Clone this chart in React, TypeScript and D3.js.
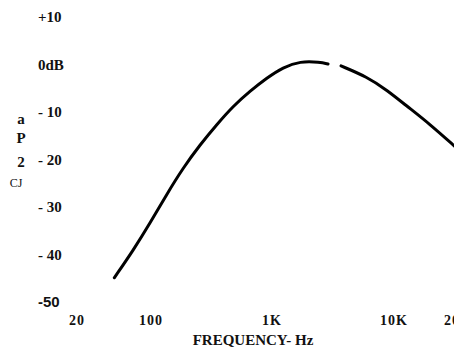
import { useEffect, useRef } from "react"
import * as d3 from "d3"

// response curve (Hz, dB); null = gap in the trace
const freqs: number[] = [45, 68, 98, 135, 184, 254, 351, 476, 658, 910, 1230, 1700, 2470, 2880, 3200, 3680, 6010, 8770, 11600, 14600, 19500]
const levels: (number | null)[] = [-44.9, -39.1, -33.4, -27.3, -21.8, -16.9, -12.6, -8.8, -5.6, -2.8, -0.6, 0.7, 0.5, 0.1, null, -0.3, -2.6, -5.4, -8.9, -12.4, -17.4]

const yTickValues = [10, 0, -10, -20, -30, -40, -50]
const yTickLabels = ["+10", "0dB", "- 10", "- 20", "- 30", "- 40", "-50"]

const xTickValues = [20, 100, 1000, 10000, 20000]
const xTickLabels = ["20", "100", "1K", "10K", "20K"]

const yTitleChars = ["a", "P", "2", "CJ"]

export default function App() {
  const svgRef = useRef<SVGSVGElement | null>(null)

  useEffect(() => {
    if (!svgRef.current) return
    const svg = d3.select(svgRef.current)
    svg.selectAll("*").remove()

    // printed decade spacing is uneven, so go piecewise on log10
    const xLog = d3
      .scaleLinear()
      .domain(xTickValues.map((v) => Math.log10(v)))
      .range([77, 151, 272, 394, 458])
    const x = (f: number) => xLog(Math.log10(f))

    const y = d3.scaleLinear().domain([10, -50]).range([17, 302])

    const serif = "'Liberation Serif', 'Times New Roman', serif"

    // y tick labels
    svg
      .append("g")
      .selectAll("text")
      .data(yTickValues)
      .enter()
      .append("text")
      .attr("x", 38)
      .attr("y", (d) => y(d))
      .attr("dy", "0.35em")
      .attr("font-family", (d, i) => (i === 6 ? "'Liberation Sans', Arial, sans-serif" : serif))
      .attr("font-weight", "bold")
      .attr("font-size", 15)
      .attr("fill", "#111")
      .text((d, i) => yTickLabels[i])

    // garbled y title
    svg
      .append("g")
      .selectAll("text")
      .data(yTitleChars)
      .enter()
      .append("text")
      .attr("x", (d, i) => (i === 3 ? 16 : 21))
      .attr("y", (d, i) => [119, 138, 162, 183][i])
      .attr("dy", "0.35em")
      .attr("text-anchor", "middle")
      .attr("font-family", serif)
      .attr("font-weight", (d, i) => (i === 3 ? "normal" : "bold"))
      .attr("font-size", (d, i) => (i === 3 ? 12 : 15))
      .attr("fill", "#111")
      .text((d) => d)

    // x tick labels
    svg
      .append("g")
      .selectAll("text")
      .data(xTickValues)
      .enter()
      .append("text")
      .attr("x", (d) => x(d))
      .attr("y", 320)
      .attr("dy", "0.35em")
      .attr("text-anchor", "middle")
      .attr("font-family", serif)
      .attr("font-weight", "bold")
      .attr("font-size", 14)
      .attr("letter-spacing", 1)
      .attr("fill", "#111")
      .text((d, i) => xTickLabels[i])

    svg
      .append("text")
      .attr("x", 253)
      .attr("y", 340)
      .attr("dy", "0.35em")
      .attr("text-anchor", "middle")
      .attr("font-family", serif)
      .attr("font-weight", "bold")
      .attr("font-size", 15)
      .attr("fill", "#111")
      .text("FREQUENCY- Hz")

    // response curve
    const pts = freqs.map((f, i) => ({ f, db: levels[i] }))
    const line = d3
      .line<{ f: number; db: number | null }>()
      .defined((d) => d.db !== null)
      .x((d) => x(d.f))
      .y((d) => y(d.db as number))
      .curve(d3.curveBasis)

    svg
      .append("path")
      .datum(pts)
      .attr("d", line)
      .attr("fill", "none")
      .attr("stroke", "#000")
      .attr("stroke-width", 3)
      .attr("stroke-linecap", "round")
  }, [])

  return (
    <svg
      ref={svgRef}
      width={454}
      height={354}
      style={{ position: "absolute", left: 0, top: 0, background: "#fff" }}
    ></svg>
  )
}
